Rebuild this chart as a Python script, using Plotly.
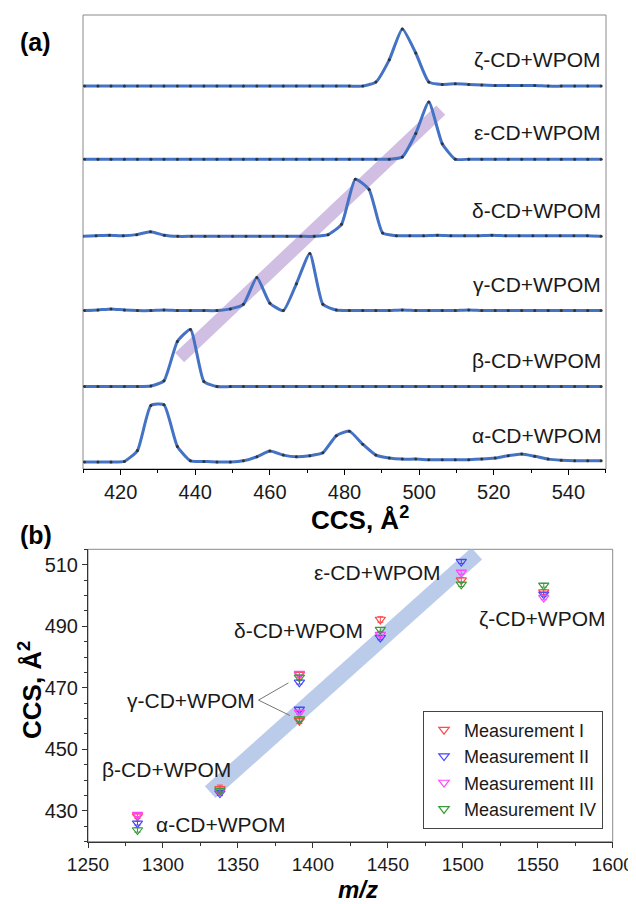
import plotly.graph_objects as go

# ---------------- Panel (a): CCS distributions ----------------
ccs_grid = [410.3, 413.9, 417.4, 421.0, 424.5, 428.1, 431.6, 435.2, 438.7, 442.3,
            445.8, 449.4, 452.9, 456.5, 460.0, 463.6, 467.1, 470.7, 474.2, 477.8,
            481.3, 484.9, 488.4, 492.0, 495.5, 499.1, 502.6, 506.2, 509.7, 513.3,
            516.8, 520.4, 523.9, 527.5, 531.0, 534.6, 538.1, 541.7, 545.2, 548.8]
ccs_grid_delta = [409.7, 413.4, 417.0, 420.7, 424.3, 428.0, 431.7, 435.3, 439.0, 442.6,
                  446.3, 450.0, 453.6, 457.3, 460.9, 464.6, 468.3, 471.9, 475.6, 479.2,
                  482.9, 486.6, 490.2, 493.9, 497.5, 501.2, 504.9, 508.5, 512.2, 515.8,
                  519.5, 523.2, 526.8, 530.5, 534.1, 537.8, 541.5, 545.1, 548.8]

int_alpha = [0.0, 0.0, 0.0, 0.01, 0.2, 0.99, 1.0, 0.27, 0.02, 0.01,
             0.0, 0.0, 0.02, 0.09, 0.19, 0.12, 0.09, 0.11, 0.16, 0.46,
             0.54, 0.31, 0.12, 0.07, 0.05, 0.05, 0.04, 0.04, 0.04, 0.04,
             0.05, 0.07, 0.11, 0.14, 0.1, 0.05, 0.03, 0.02, 0.02, 0.02]
int_beta = [0.0, 0.0, 0.0, 0.0, 0.0, 0.01, 0.1, 0.79, 1.0, 0.09,
            0.0, 0.0, 0.0, 0.0, 0.0, 0.0, 0.0, 0.0, 0.0, 0.0,
            0.0, 0.0, 0.0, 0.0, 0.0, 0.0, 0.0, 0.0, 0.0, 0.0,
            0.0, 0.0, 0.0, 0.0, 0.0, 0.0, 0.0, 0.0, 0.0, 0.0]
int_gamma = [0.0, 0.01, 0.03, 0.01, 0.0, 0.0, 0.01, 0.0, 0.0, 0.0,
             0.0, 0.03, 0.11, 0.58, 0.13, 0.0, 0.47, 1.0, 0.11, 0.01,
             0.0, 0.0, 0.0, 0.0, 0.01, 0.0, 0.0, 0.0, 0.0, 0.01,
             0.0, 0.0, 0.0, 0.0, 0.0, 0.0, 0.0, 0.0, 0.0, 0.0]
int_delta = [0.0, 0.01, 0.02, 0.01, 0.03, 0.08, 0.02, 0.0, 0.0, 0.0,
             0.0, 0.0, 0.0, 0.0, 0.0, 0.0, 0.0, 0.0, 0.03, 0.21,
             1.0, 0.82, 0.06, 0.01, 0.01, 0.01, 0.02, 0.01, 0.01, 0.01,
             0.02, 0.01, 0.01, 0.01, 0.01, 0.01, 0.01, 0.01, 0.0]
int_epsilon = [0.0, 0.0, 0.0, 0.0, 0.0, 0.0, 0.0, 0.0, 0.0, 0.0,
               0.0, 0.0, 0.0, 0.0, 0.0, 0.0, 0.0, 0.0, 0.0, 0.0,
               0.0, 0.0, 0.0, 0.0, 0.04, 0.45, 1.0, 0.27, 0.0, 0.0,
               0.0, 0.0, 0.0, 0.0, 0.0, 0.0, 0.0, 0.0, 0.0, 0.0]
int_zeta = [0.0, 0.0, 0.0, 0.0, 0.0, 0.0, 0.0, 0.0, 0.0, 0.0,
            0.0, 0.0, 0.0, 0.0, 0.0, 0.0, 0.0, 0.0, 0.0, 0.0,
            0.0, 0.0, 0.07, 0.46, 1.0, 0.58, 0.07, 0.03, 0.04, 0.03,
            0.02, 0.01, 0.01, 0.01, 0.01, 0.0, 0.0, 0.0, 0.0, 0.0]

trace_names = ["α-CD+WPOM", "β-CD+WPOM", "γ-CD+WPOM", "δ-CD+WPOM", "ε-CD+WPOM", "ζ-CD+WPOM"]
trace_x = [ccs_grid, ccs_grid, ccs_grid, ccs_grid_delta, ccs_grid, ccs_grid]
trace_y = [int_alpha, int_beta, int_gamma, int_delta, int_epsilon, int_zeta]
stack_offsets = [0.0, 1.32, 2.65, 3.95, 5.30, 6.58]

# ---------------- Panel (b): CCS vs m/z ----------------
mz_values = [1283, 1338, 1391, 1391, 1445, 1499, 1554]
meas_names = ["Measurement I", "Measurement II", "Measurement III", "Measurement IV"]
meas_I = [428.3, 437.2, 474.3, 459.3, 492.2, 505.0, 501.1]
meas_II = [426.0, 435.8, 471.8, 463.0, 486.3, 511.0, 500.4]
meas_III = [428.8, 436.3, 474.6, 462.0, 487.3, 507.5, 499.3]
meas_IV = [423.8, 436.6, 473.4, 459.8, 488.9, 503.6, 503.3]
err_I = [0.8, 1.2, 0.8, 0.9, 0.9, 0.8, 0.8]
err_II = [0.6, 0.8, 0.6, 0.6, 0.7, 0.6, 0.6]
err_III = [0.6, 0.7, 0.6, 0.6, 0.6, 0.6, 0.7]
err_IV = [0.7, 0.8, 0.7, 0.8, 0.7, 0.7, 0.6]
meas_colors = ["#ff4a4a", "#4444ff", "#ff44ff", "#3a9a3a"]

FONT = "Liberation Sans, Arial, sans-serif"
W, H = 636, 904
OFF = 8  # page body margin of the html page


def fx(px):
    return (px - OFF) / W


def fy(py):
    return 1 - (py - OFF) / H


fig = go.Figure()

for name, xs, ys, off in zip(trace_names, trace_x, trace_y, stack_offsets):
    fig.add_trace(go.Scatter(
        x=xs, y=[v + off for v in ys], mode="lines+markers",
        line=dict(color="#4472c4", width=3, shape="spline", smoothing=0.5),
        marker=dict(size=3, color="#333333"),
        showlegend=False, xaxis="x", yaxis="y", hoverinfo="skip"))
    fig.add_annotation(xref="paper", yref="y", x=fx(603), y=off + 0.46, text=name,
                       showarrow=False, xanchor="right", yanchor="middle",
                       font=dict(family=FONT, size=21, color="#1a1a1a"))

for name, ys, es, col in zip(meas_names, [meas_I, meas_II, meas_III, meas_IV],
                             [err_I, err_II, err_III, err_IV], meas_colors):
    fig.add_trace(go.Scatter(
        x=mz_values, y=ys, mode="markers", name=name,
        marker=dict(symbol="triangle-down-open", size=9, color=col, line=dict(width=1.2, color=col)),
        error_y=dict(type="data", array=es, color=col, thickness=1, width=3),
        xaxis="x2", yaxis="y2"))

# Purple guide band in (a)
fig.add_shape(type="line", xref="x", yref="y", x0=435.8, y0=1.83, x1=505.8, y1=6.16,
              line=dict(color="rgba(185,155,212,0.65)", width=13), layer="below")
# Frame of (a)
fig.add_shape(type="rect", xref="x domain", yref="y domain", x0=0, x1=1, y0=0, y1=1,
              line=dict(color="#8a8a8a", width=1), layer="below")
# Blue guide band in (b)
fig.add_shape(type="line", xref="x2", yref="y2", x0=1331.5, y0=436.1, x1=1509.3, y1=513.6,
              line=dict(color="rgba(150,177,225,0.65)", width=16), layer="below")
# Frame of (b)
fig.add_shape(type="rect", xref="x2 domain", yref="y2 domain", x0=0, x1=1, y0=0, y1=1,
              line=dict(color="#8a8a8a", width=1), layer="below")
# gamma leader lines
fig.add_shape(type="line", xref="x2", yref="y2", x0=1363.7, y0=466.0, x1=1383.7, y1=471.6,
              line=dict(color="#777777", width=1))
fig.add_shape(type="line", xref="x2", yref="y2", x0=1363.7, y0=466.0, x1=1384.7, y1=461.0,
              line=dict(color="#777777", width=1))

lab_font = dict(family=FONT, size=21, color="#1a1a1a")
fig.add_annotation(xref="x2", yref="y2", x=1487, y=507.6, text="ε-CD+WPOM", showarrow=False,
                   xanchor="right", yanchor="middle", font=lab_font)
fig.add_annotation(xref="x2", yref="y2", x=1553, y=492.5, text="ζ-CD+WPOM", showarrow=False,
                   xanchor="center", yanchor="middle", font=lab_font)
fig.add_annotation(xref="x2", yref="y2", x=1435, y=488.7, text="δ-CD+WPOM", showarrow=False,
                   xanchor="right", yanchor="middle", font=lab_font)
fig.add_annotation(xref="x2", yref="y2", x=1362.5, y=466.0, text="γ-CD+WPOM", showarrow=False,
                   xanchor="right", yanchor="middle", font=lab_font)
fig.add_annotation(xref="x2", yref="y2", x=1258, y=443.3, text="β-CD+WPOM", showarrow=False,
                   xanchor="left", yanchor="middle", font=lab_font)
fig.add_annotation(xref="x2", yref="y2", x=1294, y=425.7, text="α-CD+WPOM", showarrow=False,
                   xanchor="left", yanchor="middle", font=lab_font)

# Panel letters and axis titles
title_font = dict(family=FONT, size=25, color="black")
fig.add_annotation(xref="paper", yref="paper", x=fx(35), y=fy(42), text="<b>(a)</b>",
                   showarrow=False, xanchor="center", yanchor="middle", font=title_font)
fig.add_annotation(xref="paper", yref="paper", x=fx(36), y=fy(535), text="<b>(b)</b>",
                   showarrow=False, xanchor="center", yanchor="middle", font=title_font)
fig.add_annotation(xref="paper", yref="paper", x=fx(360), y=fy(519), text="<b>CCS, Å<sup>2</sup></b>",
                   showarrow=False, xanchor="center", yanchor="middle",
                   font=dict(family=FONT, size=26, color="black"))
fig.add_annotation(xref="paper", yref="paper", x=fx(358), y=fy(889), text="<b><i>m/z</i></b>",
                   showarrow=False, xanchor="center", yanchor="middle",
                   font=dict(family=FONT, size=24, color="black"))
fig.add_annotation(xref="paper", yref="paper", x=fx(30), y=fy(690), text="<b>CCS, Å<sup>2</sup></b>",
                   showarrow=False, textangle=-90, xanchor="center", yanchor="middle",
                   font=dict(family=FONT, size=26, color="black"))

tick_font = dict(family=FONT, size=20, color="#1a1a1a")
tick_font_b = dict(family=FONT, size=19, color="#1a1a1a")
fig.update_layout(
    width=W, height=H, autosize=False,
    margin=dict(l=0, r=0, t=0, b=0, autoexpand=False),
    paper_bgcolor="white", plot_bgcolor="white",
    font=dict(family=FONT),
    xaxis=dict(domain=[fx(83), fx(606)], range=[409.9, 550.1], anchor="y", automargin=False,
               showline=True, linecolor="black", linewidth=1, ticks="outside", ticklen=5,
               tickcolor="black", tickvals=[420, 440, 460, 480, 500, 520, 540],
               tickfont=tick_font, showgrid=False, zeroline=False,
               minor=dict(dtick=10, tick0=410, ticks="outside", ticklen=3, tickcolor="black", showgrid=False)),
    yaxis=dict(domain=[fy(469), fy(15)], range=[-0.123, 7.825], anchor="x", automargin=False,
               showline=False, showticklabels=False, ticks="", showgrid=False, zeroline=False),
    xaxis2=dict(domain=[fx(88), fx(612.7)], range=[1250, 1600], anchor="y2", automargin=False,
                showline=True, linecolor="#333333", linewidth=1, ticks="outside", ticklen=5,
                tickcolor="#333333", dtick=50, tick0=1250, tickfont=tick_font_b,
                showgrid=False, zeroline=False,
                minor=dict(dtick=25, ticks="outside", ticklen=3, tickcolor="#333333", showgrid=False)),
    yaxis2=dict(domain=[fy(841.7), fy(549.3)], range=[420, 515], anchor="x2", automargin=False,
                showline=True, linecolor="#333333", linewidth=1, ticks="outside", ticklen=5,
                tickcolor="#333333", tickvals=[430, 450, 470, 490, 510], tickfont=tick_font,
                showgrid=False, zeroline=False,
                minor=dict(dtick=5, tick0=420, ticks="outside", ticklen=3, tickcolor="#333333", showgrid=False)),
    legend=dict(x=fx(423), y=fy(769.5), xanchor="left", yanchor="middle",
                bgcolor="white", bordercolor="#444444", borderwidth=1,
                font=dict(family=FONT, size=18, color="#1a1a1a"), itemwidth=30,
                tracegroupgap=0),
)

fig.write_html("out.html")
